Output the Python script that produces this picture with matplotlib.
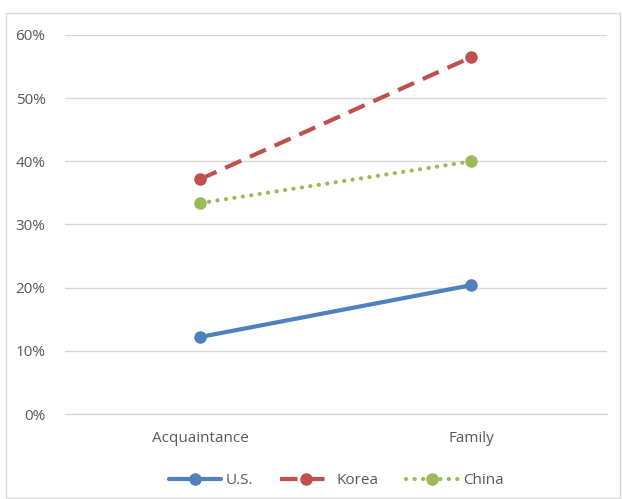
import matplotlib
matplotlib.use("Agg")
import matplotlib.pyplot as plt
from matplotlib.patches import Rectangle
from matplotlib.ticker import FuncFormatter

# data
categories = ["Acquaintance", "Family"]
us = [0.122, 0.204]
korea = [0.372, 0.565]
china = [0.334, 0.400]

plt.rcParams['font.family'] = ['Open Sans', 'DejaVu Sans']
txt = '#595959'

fig = plt.figure(figsize=(6.22, 4.99), dpi=100)
ax = fig.add_axes([65/622, 85/499, 542/622, 379/499])

x = range(len(categories))
ax.plot(x, us, color='#4f81bd', lw=3, marker='o', ms=8, label='U.S.', solid_capstyle='round')
ax.plot(x, korea, color='#c0504d', lw=3, marker='o', ms=8, label='Korea', dashes=(4.2, 2.3))
ax.plot(x, china, color='#9bbb59', lw=3, marker='o', ms=8, label='China', linestyle=(0, (0.05, 2.0)),
        dash_capstyle='round')

ax.set_xlim(-0.5, 1.5)
ax.set_ylim(0, 0.6)
ax.set_xticks(list(x))
ax.set_xticklabels(categories)
ax.set_yticks([i / 10 for i in range(7)])
ax.yaxis.set_major_formatter(FuncFormatter(lambda v, p: f"{v:.0%}"))
ax.grid(axis='y', color='#d9d9d9', lw=1)
ax.set_axisbelow(True)
for s in ['top', 'right', 'left']:
    ax.spines[s].set_visible(False)
ax.spines['bottom'].set_color('#d9d9d9')
ax.spines['bottom'].set_linewidth(1)
ax.tick_params(axis='both', length=0, labelsize=11, colors=txt, pad=12)
ax.tick_params(axis='y', pad=14)

ax.legend(loc='upper center', bbox_to_anchor=(0.5, -0.12), ncol=3, frameon=False,
          fontsize=11, labelcolor=txt, handlelength=3.4, columnspacing=1.8, handletextpad=0.3)

fig.patches.append(Rectangle((6/622, 1/499), 614/622, 485/499, transform=fig.transFigure,
                             fill=False, edgecolor='#d9d9d9', lw=1))

fig.savefig('out.png', dpi=100)
